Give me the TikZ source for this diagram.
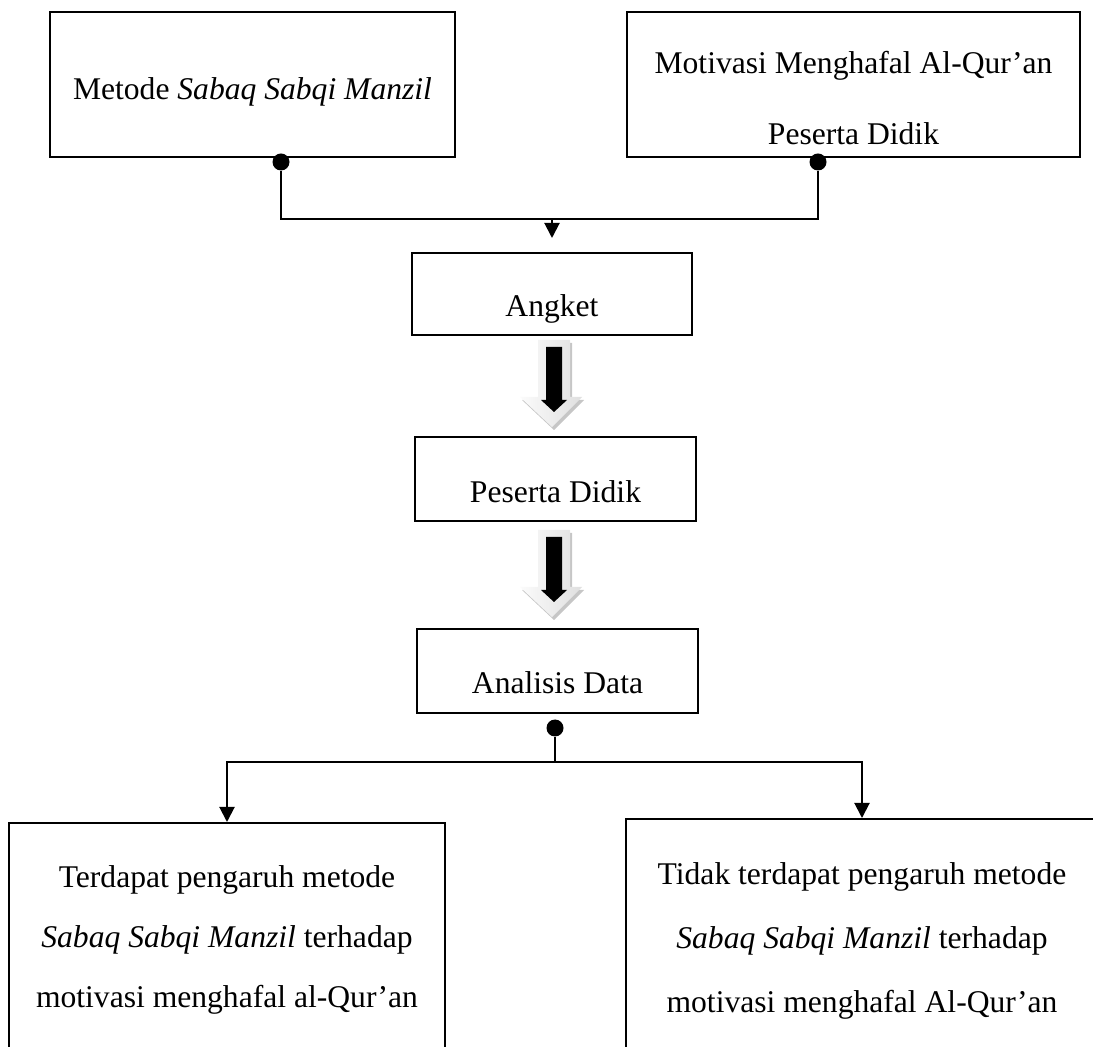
\documentclass[tikz,border=0pt]{standalone}
\usepackage{fontspec}
\setmainfont{Liberation Serif}
\usetikzlibrary{arrows.meta}
\newcommand\btxt[3]{\raisebox{#1}[0pt][0pt]{\fontsize{15.8}{#2}\selectfont\begin{tabular}[t]{@{}c@{}}#3\end{tabular}}}
\begin{document}
\begin{tikzpicture}[x=0.5pt,y=-0.5pt,
  box/.style={draw, line width=1pt, rectangle, inner sep=0pt, font=\fontsize{15.8}{19}\selectfont},
  dotn/.style={circle, fill, inner sep=0pt, minimum size=8.5pt},
  conn/.style={line width=1pt},
  tipa/.tip={Triangle[width=7.5pt,length=7.5pt]},
  arr/.style={conn, -tipa},
  lightarrow/.style={left color=gray!3, right color=gray!25},
]
\useasboundingbox (0,0) rectangle (1093,1047);
\clip (0,0) rectangle (1093,1047);

% boxes
\node[box, minimum width=202.5pt, minimum height=72.5pt] (b1) at (252.5,84.5)
  {\btxt{-7.75pt}{19}{Metode \textit{Sabaq Sabqi Manzil}}};
\node[box, minimum width=226.5pt, minimum height=72.5pt] (b2) at (853.5,84.5)
  {\btxt{5.5pt}{35.5}{Motivasi Menghafal Al-Qur’an\\Peserta Didik}};
\node[box, minimum width=140pt, minimum height=41pt] (angket) at (552,294)
  {\btxt{-11.5pt}{19}{Angket}};
\node[box, minimum width=140.5pt, minimum height=42pt] (peserta) at (555.5,479)
  {\btxt{-11.75pt}{19}{Peserta Didik}};
\node[box, minimum width=140.5pt, minimum height=42pt] (analisis) at (557.5,671)
  {\btxt{-11.5pt}{19}{Analisis Data}};
\node[box, minimum width=218pt, minimum height=150pt] (ya) at (227,973)
  {\btxt{43pt}{30}{Terdapat pengaruh metode\\\textit{Sabaq Sabqi Manzil} terhadap\\motivasi menghafal al-Qur’an}};
\node[box, minimum width=236pt, minimum height=150pt] (tidak) at (862,969)
  {\btxt{42.5pt}{32}{Tidak terdapat pengaruh metode\\\textit{Sabaq Sabqi Manzil} terhadap\\motivasi menghafal Al-Qur’an}};

% dots
\node[dotn] (d1) at (281,162) {};
\node[dotn] (d2) at (818,162) {};
\node[dotn] (d3) at (555,728) {};
\coordinate (j1) at (552,219);
\coordinate (j2) at (555,762);

% connectors
\draw[conn] (d1) -- (d1 |- j1) -- (d2 |- j1) -- (d2);
\draw[arr, shorten >=7pt] (j1) -- (angket.north);
\draw[conn] (d3) -- (j2);
\draw[conn, tipa-tipa] (ya.north) -- (ya.north |- j2) -- (tidak.north |- j2) -- (tidak.north);

% block arrows
\foreach \dy in {0,190}{
  \fill[gray!45] (540,{343+\dy}) -- (572,{343+\dy}) -- (572,{400+\dy}) -- (584,{400+\dy}) -- (554,{430+\dy}) -- (522,{400+\dy}) -- (540,{400+\dy}) -- cycle;
  \shade[lightarrow] (538,{340+\dy}) -- (570,{340+\dy}) -- (570,{397+\dy}) -- (582,{397+\dy}) -- (552,{427+\dy}) -- (520,{397+\dy}) -- (538,{397+\dy}) -- cycle;
  \fill[black] (546,{347+\dy}) -- (562,{347+\dy}) -- (562,{400+\dy}) -- (567,{400+\dy}) -- (554,{412+\dy}) -- (541,{400+\dy}) -- (546,{400+\dy}) -- cycle;
}
\end{tikzpicture}
\end{document}
